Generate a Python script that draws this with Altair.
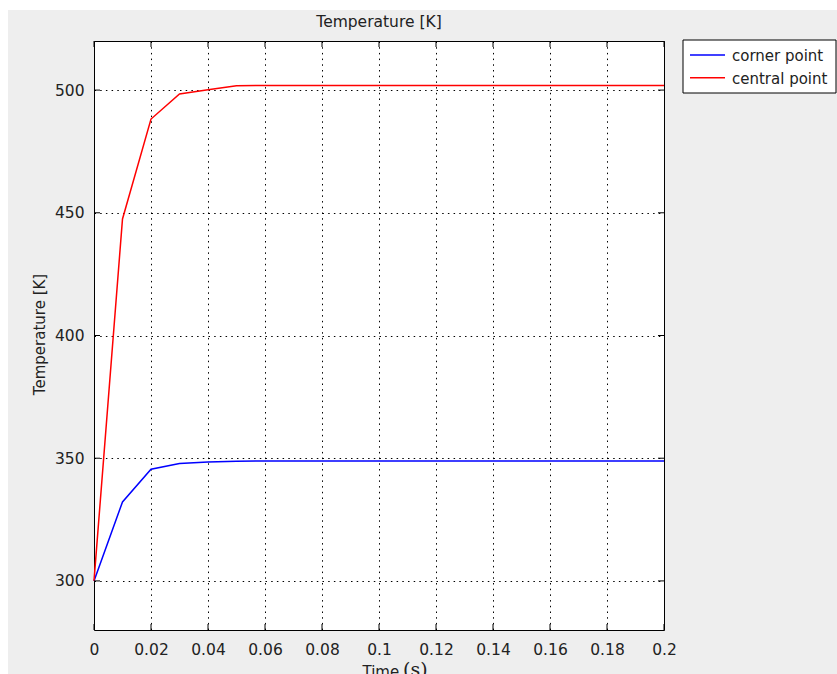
import altair as alt
import pandas as pd

# ---------------- data ----------------
time_s = [0.00, 0.01, 0.02, 0.03, 0.04, 0.05, 0.06, 0.07, 0.08, 0.09, 0.10,
          0.11, 0.12, 0.13, 0.14, 0.15, 0.16, 0.17, 0.18, 0.19, 0.20]
corner_point = [300.0, 332.2, 345.5, 347.8, 348.5, 348.8, 348.9, 348.9, 348.9, 348.9, 348.9,
                348.9, 348.9, 348.9, 348.9, 348.9, 348.9, 348.9, 348.9, 348.9, 348.9]
central_point = [300.0, 447.5, 488.2, 498.4, 500.1, 501.8, 501.9, 501.9, 501.9, 501.9, 501.9,
                 501.9, 501.9, 501.9, 501.9, 501.9, 501.9, 501.9, 501.9, 501.9, 501.9]
series_names = ["corner point", "central point"]
series_colors = ["#0000ff", "#ff0000"]
x_ticks = [0, 0.02, 0.04, 0.06, 0.08, 0.1, 0.12, 0.14, 0.16, 0.18, 0.2]
y_ticks = [300, 350, 400, 450, 500]
x_domain = [0, 0.2]
y_domain = [280, 520]
chart_title = "Temperature [K]"
y_title = "Temperature [K]"
x_title = "Time"
x_unit = "(s)"

# ---------------- layout ----------------
W, H = 570, 589
LEFT, TOP = 94, 41
FULL_W, FULL_H = 837, 674
FONT = "DejaVu Sans"
TXT = "#222222"

rows = []
for name, vals in zip(series_names, [corner_point, central_point]):
    for t, v in zip(time_s, vals):
        rows.append({"time": t, "temp": v, "series": name})
df = pd.DataFrame(rows)
xt = pd.DataFrame({"time": x_ticks})
yt = pd.DataFrame({"temp": y_ticks})
one = alt.Data(values=[{"k": 1}])

xscale = alt.Scale(domain=x_domain, nice=False, zero=False)
yscale = alt.Scale(domain=y_domain, nice=False, zero=False)
x_axis = alt.Axis(values=x_ticks, format="~g", title=x_title,
                  titleX=268, titleY=46, titleAlign="left",
                  titleBaseline="alphabetic", titleAnchor="start")
y_axis = alt.Axis(values=y_ticks, format="d", title=y_title,
                  titleAngle=270, titleX=-50, titleY=293,
                  titleAlign="center", titleBaseline="alphabetic")
X = alt.X("time:Q", scale=xscale, axis=x_axis)
Y = alt.Y("temp:Q", scale=yscale, axis=y_axis)

# white page margin outside the grey panel
strip_left = alt.Chart(one).mark_rect(color="white").encode(
    x=alt.value(-LEFT), x2=alt.value(8 - LEFT),
    y=alt.value(-TOP), y2=alt.value(FULL_H - TOP))
strip_top = alt.Chart(one).mark_rect(color="white").encode(
    x=alt.value(-LEFT), x2=alt.value(FULL_W - LEFT),
    y=alt.value(-TOP), y2=alt.value(10 - TOP))

lines = alt.Chart(df).mark_line(strokeWidth=1.5).encode(
    x=X, y=Y,
    color=alt.Color("series:N", scale=alt.Scale(domain=series_names, range=series_colors),
                    legend=None),
    detail="series:N",
)

tick_len = 6
ticks_bottom = alt.Chart(xt).mark_rule(color="black").encode(
    x=X, y=alt.value(H), y2=alt.value(H - tick_len))
ticks_top = alt.Chart(xt).mark_rule(color="black").encode(
    x=X, y=alt.value(0), y2=alt.value(tick_len))
ticks_left = alt.Chart(yt).mark_rule(color="black").encode(
    y=Y, x=alt.value(0), x2=alt.value(tick_len))
ticks_right = alt.Chart(yt).mark_rule(color="black").encode(
    y=Y, x=alt.value(W), x2=alt.value(W - tick_len))

# legend (drawn manually)
lx0, ly0, lx1, ly1 = 589, -1, 742, 52
leg_box = alt.Chart(one).mark_rect(fill="white", stroke="black", strokeWidth=1).encode(
    x=alt.value(lx0), x2=alt.value(lx1), y=alt.value(ly0), y2=alt.value(ly1))
leg_layers = []
for i, (name, col) in enumerate(zip(series_names, series_colors)):
    yy = 14 + i * 22.7
    leg_layers.append(alt.Chart(one).mark_rule(color=col, strokeWidth=1.5).encode(
        x=alt.value(596), x2=alt.value(631), y=alt.value(yy)))
    leg_layers.append(alt.Chart(alt.Data(values=[{"label": name}])).mark_text(
        align="left", baseline="middle", font=FONT, fontSize=15, color=TXT).encode(
        x=alt.value(638), y=alt.value(yy + 1), text="label:N"))

title_mark = alt.Chart(alt.Data(values=[{"label": chart_title}])).mark_text(
    align="center", baseline="alphabetic", font=FONT, fontSize=15.5, color=TXT).encode(
    x=alt.value(W / 2), y=alt.value(-14), text="label:N")
unit_mark = alt.Chart(alt.Data(values=[{"label": x_unit}])).mark_text(
    align="left", baseline="alphabetic", font="DejaVu Serif", fontSize=19, color=TXT).encode(
    x=alt.value(309), y=alt.value(H + 46), text="label:N")

chart = alt.layer(
    strip_left, strip_top, lines, ticks_bottom, ticks_top, ticks_left, ticks_right,
    leg_box, *leg_layers, title_mark, unit_mark,
).properties(
    width=W, height=H,
    autosize=alt.AutoSizeParams(type="none"),
    padding={"left": LEFT, "top": TOP, "right": FULL_W - LEFT - W, "bottom": FULL_H - TOP - H},
    background="#eeeeee",
).configure_view(
    stroke="black", strokeWidth=1, fill="white"
).configure_axis(
    grid=True, gridColor="black", gridDash=[1.5, 4.2], gridWidth=1, gridOpacity=1,
    ticks=False, domain=False, labelFlush=False,
    labelFont=FONT, labelFontSize=15.5, labelColor=TXT,
    titleFont=FONT, titleFontSize=15, titleFontWeight="normal", titleColor=TXT,
).configure_axisX(
    labelPadding=12
).configure_axisY(
    labelPadding=10
)

chart.save("out.html", embed_options={"renderer": "svg", "actions": False})
